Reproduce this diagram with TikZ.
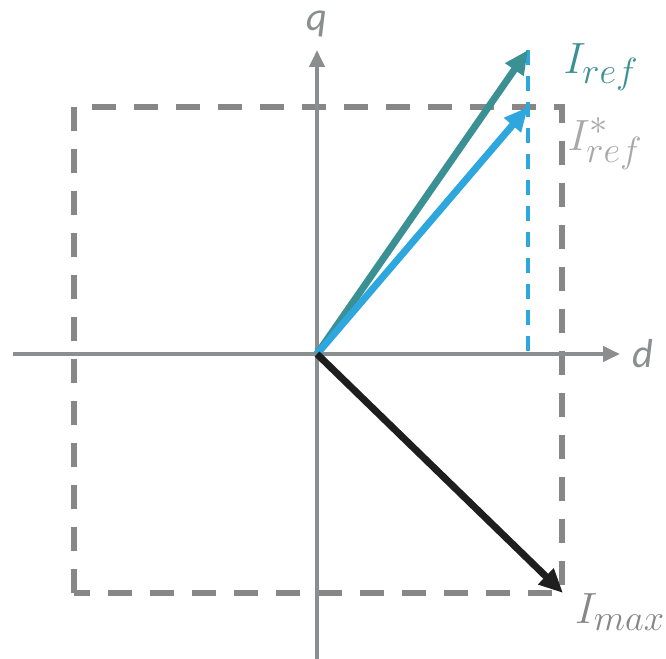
\documentclass[tikz,border=0pt]{standalone}
\usepackage{fontspec}
\newfontfamily\axisfont{Carlito}
\usetikzlibrary{arrows.meta,positioning}
\definecolor{axisgray}{HTML}{8B8E8E}
\definecolor{boxgray}{HTML}{878787}
\definecolor{refteal}{HTML}{3A9092}
\definecolor{refblue}{HTML}{2EA6DE}
\definecolor{stargray}{HTML}{A8A8A8}
\definecolor{maxblack}{HTML}{1E1E1E}
\tikzset{
  axis/.style={
    draw = axisgray,
    line width = 0.08cm,
    -{Triangle[length=0.34cm,width=0.3cm]}
  },
  limitbox/.style={
    draw = boxgray,
    line width = 0.12cm,
    dash pattern = on 0.48cm off 0.36cm
  },
  phasor/.style={
    line width = 0.14cm,
    -{Triangle[length=0.48cm,width=0.42cm]}
  },
  projline/.style={
    draw = refblue,
    line width = 0.07cm,
    dash pattern = on 0.3cm off 0.22cm
  },
  axislabel/.style={
    text = axisgray,
    font = \axisfont\itshape\fontsize{23}{27}\selectfont
  },
  veclabel/.style={
    font = \fontsize{29}{34}\selectfont
  }
}

\begin{document}
\begin{tikzpicture}
\useasboundingbox (-6.34,-6.08) rectangle (6.98,7.08);
\coordinate (o) at (0,0);
\coordinate (dstart) at (-6.08,0);
\coordinate (dend) at (6.06,0);
\coordinate (qstart) at (0,-6.1);
\coordinate (qend) at (0,6.08);
\coordinate (boxlo) at (-4.86,-4.78);
\coordinate (boxhi) at (4.9,4.94);
\coordinate (iref) at (4.22,6.08);
\coordinate (irefstar) at (4.22,4.94);
\coordinate (irefbase) at (4.22,0);
\coordinate (imax) at (4.92,-4.78);
% current limit
\draw[limitbox] (boxlo) rectangle (boxhi);
% d-q axes
\draw[axis] (dstart) -- (dend);
\draw[axis] (qstart) -- (qend);
\node[axislabel] (dlab) at (6.52,0) {d};
\node[axislabel] (qlab) at (0,6.6) {q};
% references
\draw[projline] (iref) -- (irefbase);
\draw[phasor, draw=refteal, fill=refteal] (o) -- (iref);
\draw[phasor, draw=refblue, fill=refblue] (o) -- (irefstar);
\draw[phasor, draw=maxblack, fill=maxblack] (o) -- (imax);
\node[veclabel, text=refteal] (ireflab) at (5.68,5.74) {$I_{ref}$};
\node[veclabel, text=stargray] (irefstarlab) at (5.76,4.2) {$I^{*}_{ref}$};
\node[veclabel, text=boxgray] (imaxlab) at (6.06,-5.16) {$I_{max}$};
\end{tikzpicture}
\end{document}
